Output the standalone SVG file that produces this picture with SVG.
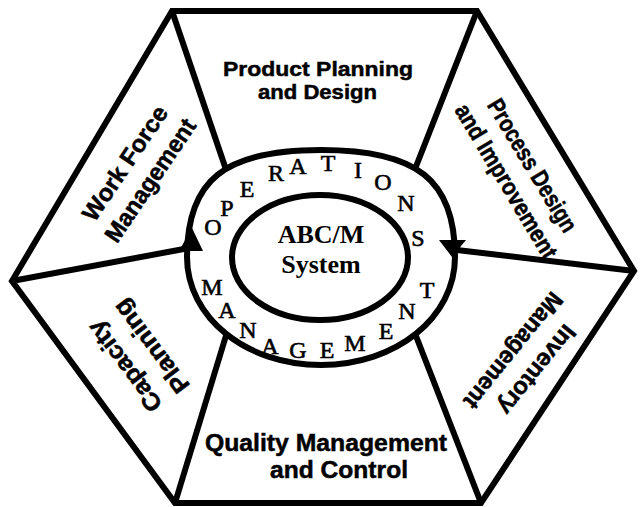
<svg xmlns="http://www.w3.org/2000/svg" width="640" height="507" viewBox="0 0 640 507">
<style>
.ln{fill:none;stroke:#000;stroke-width:6;stroke-linejoin:miter;stroke-linecap:butt}
.lbl{font-family:"Liberation Sans",Arial,sans-serif;font-weight:bold;font-size:24px;fill:#000;text-anchor:middle;stroke:#000;stroke-width:0.5}
.ring{font-family:"Liberation Serif","Times New Roman",serif;font-size:24px;fill:#000;text-anchor:middle;stroke:#000;stroke-width:0.6}
.core{font-family:"Liberation Serif","Times New Roman",serif;font-weight:bold;font-size:26px;fill:#000;text-anchor:middle}
</style>
<rect width="640" height="507" fill="#fff"/>
<g id="hexagon">
<polygon class="ln" points="172,11 477,11 634,271 481,503 175,503 12,281" style="fill:#fff"/>
</g>
<g id="connectors">
<line class="ln" x1="172" y1="11" x2="234" y2="193"/>
<line class="ln" x1="477" y1="11" x2="406" y2="192"/>
<line class="ln" x1="634" y1="271" x2="440" y2="248"/>
<line class="ln" x1="481" y1="503" x2="409" y2="318"/>
<line class="ln" x1="175" y1="503" x2="232" y2="316"/>
<line class="ln" x1="12" y1="281" x2="200" y2="246"/>
</g>
<g id="operations-ring">
<path class="ln" style="fill:#fff" d="M187,257 C187,180 224.5,150 321,150 C417.5,150 455,180 455,257 C455,317.5 396,365 321,365 C246,365 187,317.5 187,257 Z"/>
<polygon points="192,228 179,251 203,251" fill="#000"/>
<polygon points="452,257 439,240 466,240" fill="#000"/>
<text class="ring" x="213" y="235">O</text>
<text class="ring" x="227" y="216">P</text>
<text class="ring" x="247" y="197">E</text>
<text class="ring" x="276" y="181">R</text>
<text class="ring" x="298" y="174">A</text>
<text class="ring" x="328" y="171">T</text>
<text class="ring" x="358" y="178">I</text>
<text class="ring" x="383" y="190">O</text>
<text class="ring" x="406" y="211">N</text>
<text class="ring" x="418" y="246">S</text>
<text class="ring" x="212" y="295">M</text>
<text class="ring" x="227" y="318">A</text>
<text class="ring" x="248" y="338">N</text>
<text class="ring" x="270" y="354">A</text>
<text class="ring" x="298" y="358">G</text>
<text class="ring" x="327" y="358">E</text>
<text class="ring" x="355" y="351">M</text>
<text class="ring" x="386" y="339">E</text>
<text class="ring" x="407" y="319">N</text>
<text class="ring" x="427" y="298">T</text>
</g>
<g id="abcm-system">
<ellipse class="ln" cx="320" cy="257.5" rx="88" ry="62.5"/>
<text class="core" x="321" y="243">ABC/M</text>
<text class="core" x="321" y="273">System</text>
</g>
<g id="product-planning">
<text class="lbl" style="font-size:21px" x="318" y="76" textLength="190" lengthAdjust="spacingAndGlyphs">Product Planning</text>
<text class="lbl" style="font-size:21px" x="317.5" y="99" textLength="119" lengthAdjust="spacingAndGlyphs">and Design</text>
</g>
<g id="process-design" transform="translate(519,173.5) rotate(59)">
<text class="lbl" x="0" y="-7.5" textLength="151" lengthAdjust="spacingAndGlyphs">Process Design</text>
<text class="lbl" x="0" y="23" textLength="176" lengthAdjust="spacingAndGlyphs">and Improvement</text>
</g>
<g id="inventory-management" transform="translate(525,360) rotate(129)">
<text class="lbl" x="0" y="-7.5" textLength="108" lengthAdjust="spacingAndGlyphs">Inventory</text>
<text class="lbl" x="0" y="23" textLength="142" lengthAdjust="spacingAndGlyphs">Management</text>
</g>
<g id="quality-management">
<text class="lbl" x="326" y="451" textLength="242" lengthAdjust="spacingAndGlyphs">Quality Management</text>
<text class="lbl" x="339" y="478" textLength="138" lengthAdjust="spacingAndGlyphs">and Control</text>
</g>
<g id="capacity-planning" transform="translate(138.5,356) rotate(-127)">
<text class="lbl" x="0" y="-9" textLength="107" lengthAdjust="spacingAndGlyphs">Capacity</text>
<text class="lbl" x="0" y="24" textLength="110" lengthAdjust="spacingAndGlyphs">Planning</text>
</g>
<g id="work-force-management" transform="translate(138,172) rotate(-56)">
<text class="lbl" x="0" y="-7.5" textLength="133" lengthAdjust="spacingAndGlyphs">Work Force</text>
<text class="lbl" x="0" y="23" textLength="143" lengthAdjust="spacingAndGlyphs">Management</text>
</g>
</svg>
